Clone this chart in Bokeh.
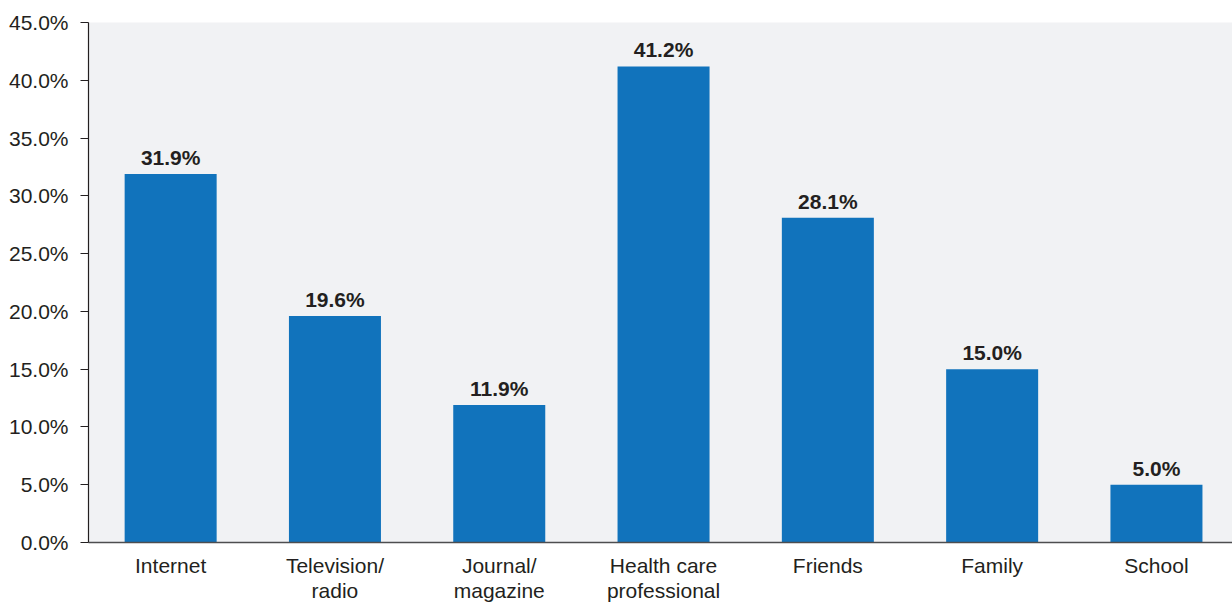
from bokeh.plotting import figure
from bokeh.models import ColumnDataSource, Range1d, FixedTicker, LabelSet, CustomJSTickFormatter
from bokeh.core.properties import value
from bokeh.embed import file_html
from bokeh.resources import INLINE

categories = ["Internet", "Television/\nradio", "Journal/\nmagazine", "Health care\nprofessional", "Friends", "Family", "School"]
values = [31.9, 19.6, 11.9, 41.2, 28.1, 15.0, 5.0]
labels = ["31.9%", "19.6%", "11.9%", "41.2%", "28.1%", "15.0%", "5.0%"]
y_ticks = [0, 5, 10, 15, 20, 25, 30, 35, 40, 45]

FONT = "Liberation Sans"
TXT = "#231f20"

xpos = [i + 0.5 for i in range(len(categories))]
src = ColumnDataSource(dict(x=xpos, val=values, lab=labels))

p = figure(width=1232, height=605, output_backend="svg", toolbar_location=None,
           x_range=Range1d(0, 1144 / 164.3),
           y_range=Range1d(0, 45),
           min_border_left=88, min_border_right=0, min_border_top=22, min_border_bottom=63)
p.border_fill_color = "white"
p.background_fill_color = "#f1f2f4"
p.outline_line_color = None
p.grid.visible = False

p.vbar(x="x", top="val", width=0.56, source=src, fill_color="#1173bc", line_color=None)

p.add_layout(LabelSet(x="x", y="val", text="lab", source=src, text_align="center",
                      text_baseline="bottom", y_offset=5, text_font=value(FONT),
                      text_font_size="21px", text_font_style="bold", text_color=TXT))

ya = p.yaxis[0]
ya.ticker = FixedTicker(ticks=y_ticks)
ya.formatter = CustomJSTickFormatter(code="return tick.toFixed(1) + '%';")
ya.major_label_text_font = FONT
ya.major_label_text_font_size = "21px"
ya.major_label_text_color = TXT
ya.major_tick_out = 8
ya.major_tick_in = 0
ya.minor_tick_out = 0
ya.minor_tick_in = 0
ya.major_tick_line_color = TXT
ya.axis_line_color = TXT
ya.axis_line_width = 1.2
ya.major_label_standoff = 12

xa = p.xaxis[0]
xa.ticker = FixedTicker(ticks=xpos)
xa.major_label_overrides = {x: c for x, c in zip(xpos, categories)}
xa.major_label_text_font = FONT
xa.major_label_text_font_size = "21px"
xa.major_label_text_line_height = 1.12
xa.major_label_text_color = TXT
xa.major_label_standoff = 11
xa.major_tick_out = 0
xa.major_tick_in = 0
xa.minor_tick_out = 0
xa.minor_tick_in = 0
xa.axis_line_color = "#4d4d4f"
xa.axis_line_width = 1.5

open("out.html", "w").write(file_html(p, INLINE))
